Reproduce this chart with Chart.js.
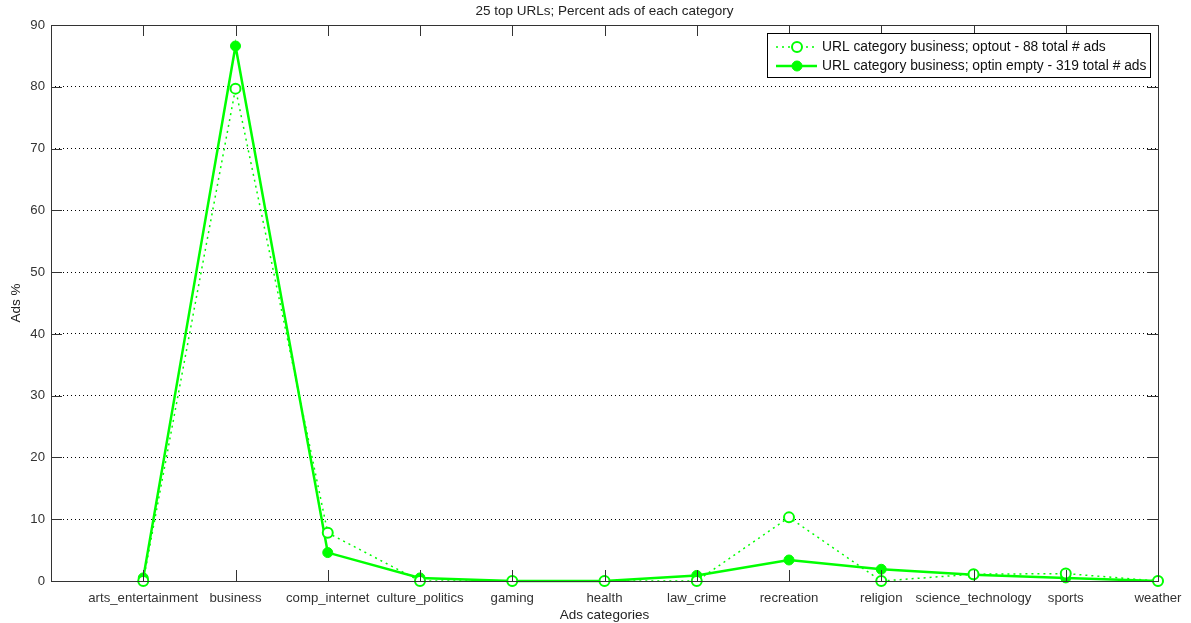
<!DOCTYPE html>
<html>
<head>
<meta charset="utf-8">
<script src="https://cdn.jsdelivr.net/npm/chart.js@4.4.0/dist/chart.umd.min.js"></script>
<style>
  html, body { margin: 0; padding: 0; background: #fff; }
  #wrap { width: 1191px; height: 623px; }
</style>
</head>
<body>
<div id="wrap"><canvas id="chart" width="1191" height="623"></canvas></div>
<script>
// данные
const categories = ['arts_entertainment', 'business', 'comp_internet', 'culture_politics', 'gaming', 'health',
  'law_crime', 'recreation', 'religion', 'science_technology', 'sports', 'weather'];
const optoutValues = [0, 79.7, 7.8, 0, 0, 0, 0, 10.3, 0, 1.1, 1.2, 0];
const optinValues = [0.5, 86.6, 4.6, 0.5, 0, 0, 0.9, 3.4, 1.9, 1.0, 0.5, 0];
const yTicks = [0, 10, 20, 30, 40, 50, 60, 70, 80, 90];
const seriesLabels = ['URL category business; optout - 88 total # ads',
  'URL category business; optin empty - 319 total # ads'];

const FONT = 'Liberation Sans, Arial, sans-serif';
const GREEN = '#00ff00';

function toPoints(arr) {
  return arr.map(function(v, i) { return { x: i + 1, y: v }; });
}

// рамка, внутренние засечки, заголовок и легенда в стиле MATLAB
const matlabFrame = {
  id: 'matlabFrame',
  afterDraw: function(chart) {
    const ctx = chart.ctx;
    const a = chart.chartArea;
    const xs = chart.scales.x, ys = chart.scales.y;
    ctx.save();
    ctx.strokeStyle = '#333';
    ctx.lineWidth = 1;
    ctx.strokeRect(a.left + 0.5, a.top + 0.5, a.right - a.left, a.bottom - a.top);
    ctx.beginPath();
    categories.forEach(function(c, i) {
      const px = Math.round(xs.getPixelForValue(i + 1)) + 0.5;
      ctx.moveTo(px, a.bottom); ctx.lineTo(px, a.bottom - 11);
      ctx.moveTo(px, a.top); ctx.lineTo(px, a.top + 11);
    });
    yTicks.forEach(function(t) {
      const py = Math.round(ys.getPixelForValue(t)) + 0.5;
      ctx.moveTo(a.left, py); ctx.lineTo(a.left + 11, py);
      ctx.moveTo(a.right, py); ctx.lineTo(a.right - 11, py);
    });
    ctx.stroke();

    // заголовок
    ctx.fillStyle = '#222';
    ctx.font = '13.5px ' + FONT;
    ctx.textAlign = 'center';
    ctx.textBaseline = 'middle';
    ctx.fillText('25 top URLs; Percent ads of each category', (a.left + a.right) / 2, 11);

    // легенда
    const bx = 767, by = 33, bw = 383, bh = 44;
    ctx.fillStyle = '#fff';
    ctx.fillRect(bx, by, bw, bh);
    ctx.strokeStyle = '#000';
    ctx.lineWidth = 1;
    ctx.strokeRect(bx + 0.5, by + 0.5, bw, bh);
    chart.data.datasets.forEach(function(ds, i) {
      const ly = by + 14 + i * 19;
      ctx.strokeStyle = ds.borderColor;
      ctx.lineWidth = ds.borderWidth;
      ctx.setLineDash(ds.borderDash || []);
      ctx.beginPath();
      ctx.moveTo(bx + 9, ly); ctx.lineTo(bx + 50, ly);
      ctx.stroke();
      ctx.setLineDash([]);
      ctx.beginPath();
      ctx.arc(bx + 30, ly, ds.pointRadius, 0, Math.PI * 2);
      ctx.fillStyle = ds.pointBackgroundColor;
      ctx.fill();
      ctx.lineWidth = ds.pointBorderWidth;
      ctx.strokeStyle = ds.pointBorderColor;
      ctx.stroke();
      ctx.fillStyle = '#111';
      ctx.font = '13.8px ' + FONT;
      ctx.textAlign = 'left';
      ctx.fillText(ds.label, bx + 55, ly);
    });
    ctx.restore();
  }
};

const ctx = document.getElementById('chart').getContext('2d');
const chart = new Chart(ctx, {
  type: 'line',
  data: {
    datasets: [{
      label: seriesLabels[0],
      data: toPoints(optoutValues),
      borderColor: GREEN,
      borderWidth: 1.5,
      borderDash: [2, 4],
      pointRadius: 5,
      pointBorderWidth: 2,
      pointBorderColor: GREEN,
      pointBackgroundColor: '#fff',
      fill: false,
      clip: false,
      tension: 0
    }, {
      label: seriesLabels[1],
      data: toPoints(optinValues),
      borderColor: GREEN,
      borderWidth: 2.5,
      pointRadius: 5,
      pointBorderWidth: 1,
      pointBorderColor: GREEN,
      pointBackgroundColor: GREEN,
      fill: false,
      clip: false,
      tension: 0
    }]
  },
  options: {
    responsive: false,
    animation: false,
    layout: { padding: { top: 25, right: 33, left: 0, bottom: 0 } },
    plugins: {
      legend: { display: false },
      title: { display: false },
      tooltip: { enabled: false }
    },
    scales: {
      x: {
        type: 'linear',
        min: 0,
        max: 12,
        afterBuildTicks: function(scale) {
          scale.ticks = categories.map(function(c, i) { return { value: i + 1 }; });
        },
        afterFit: function(scale) { scale.height = 42; },
        ticks: {
          autoSkip: false,
          maxRotation: 0,
          padding: 1,
          color: '#333',
          font: { family: FONT, size: 13.2 },
          callback: function(v) { return categories[v - 1] || ''; }
        },
        grid: { display: false },
        border: { display: false },
        title: {
          display: true,
          text: 'Ads categories',
          color: '#222',
          font: { family: FONT, size: 13.5 },
          padding: { top: 0, bottom: 0 }
        }
      },
      y: {
        min: 0,
        max: 90,
        afterBuildTicks: function(scale) {
          scale.ticks = yTicks.map(function(t) { return { value: t }; });
        },
        afterFit: function(scale) { scale.width = 51; },
        ticks: {
          padding: 6,
          color: '#333',
          font: { family: FONT, size: 13.2 }
        },
        grid: {
          color: '#000',
          lineWidth: 1,
          tickLength: 0,
          drawTicks: false
        },
        border: { display: false, dash: [1, 3] },
        title: {
          display: true,
          text: 'Ads %',
          color: '#222',
          font: { family: FONT, size: 13.5 },
          padding: { top: 8, bottom: 4 }
        }
      }
    }
  },
  plugins: [matlabFrame]
});
</script>
</body>
</html>
